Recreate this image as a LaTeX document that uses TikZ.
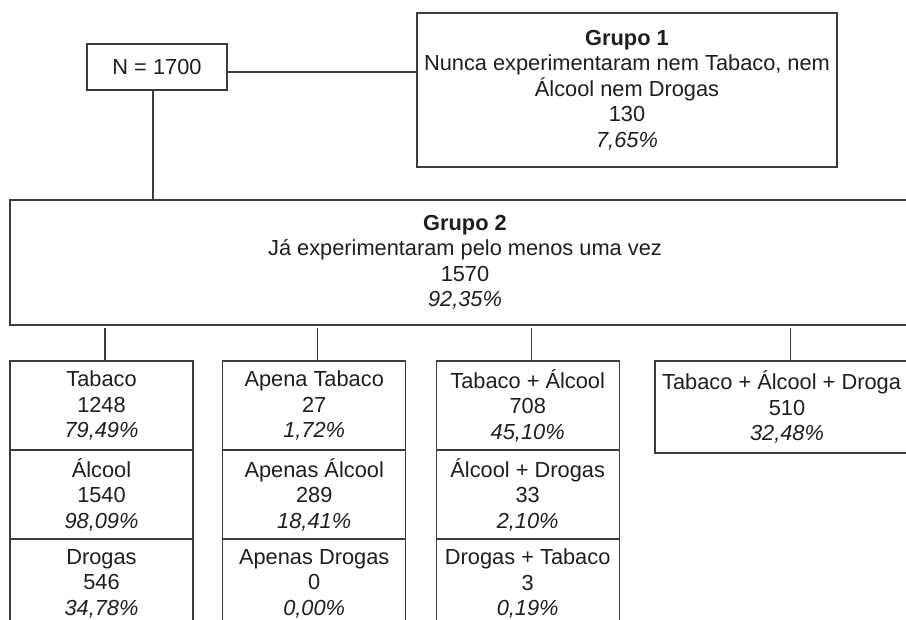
\documentclass[tikz,border=0pt]{standalone}
\usepackage{fontspec}
\setmainfont{Liberation Sans}
\usetikzlibrary{positioning}
\definecolor{FrameGray}{RGB}{60,60,60}
\definecolor{InkBlack}{RGB}{30,30,30}

\begin{document}
\begin{tikzpicture}[x=1pt, y=-1pt, font=\fontsize{21.8}{25.5}\selectfont,
    box/.style={draw=FrameGray, line width=1.3pt, text=InkBlack, align=center, inner sep=0pt, outer sep=0pt},
    cell/.style={box, minimum width=183pt, minimum height=89pt},
    link/.style={draw=FrameGray, line width=1.3pt}]
    \useasboundingbox (0,0) rectangle (906,620);
    \clip (0,0) rectangle (906,620);

    % top of the tree
    \node[box, minimum width=140pt, minimum height=46pt] (total) at (157,67) {N = 1700};
    \node[box, minimum width=420pt, minimum height=154pt] (grupo1) at (627,90)
        {\textbf{Grupo 1}\\Nunca experimentaram nem Tabaco, nem\\Álcool nem Drogas\\130\\\textit{7,65\%}};
    \node[box, minimum width=910pt, minimum height=125pt] (grupo2) at (465,262.5)
        {\textbf{Grupo 2}\\Já experimentaram pelo menos uma vez\\1570\\\textit{92,35\%}};

    % columns
    \node[cell] (tab) at (101.5,405.5) {Tabaco\\1248\\\textit{79,49\%}};
    \node[cell, below=0pt of tab] (alc) {Álcool\\1540\\\textit{98,09\%}};
    \node[cell, below=0pt of alc] (dro) {Drogas\\546\\\textit{34,78\%}};

    \node[cell] (apt) at (314.2,405.5) {Apena Tabaco\\27\\\textit{1,72\%}};
    \node[cell, below=0pt of apt] (apa) {Apenas Álcool\\289\\\textit{18,41\%}};
    \node[cell, below=0pt of apa] (apd) {Apenas Drogas\\0\\\textit{0,00\%}};

    \node[cell] (tal) at (527.7,405.5) {Tabaco + Álcool\\708\\\textit{45,10\%}};
    \node[cell, below=0pt of tal] (ald) {Álcool + Drogas\\33\\\textit{2,10\%}};
    \node[cell, below=0pt of ald] (drt) {Drogas + Tabaco\\3\\\textit{0,19\%}};

    \node[box, minimum width=264pt, minimum height=92pt] (todos) at (787,407)
        {Tabaco + Álcool + Droga\phantom{s}\\510\\\textit{32,48\%}};

    % connectors
    \draw[link] ([yshift=-5pt]total.east) -- ([yshift=-5pt]total.east -| grupo1.west);
    \draw[link] ([xshift=-4pt]total.south) -- ([xshift=-4pt]total.south |- grupo2.north);
    \foreach \c in {tab, apt, tal, todos}
        \draw[link, shorten <=3pt] ([xshift=3.5pt]\c.north |- grupo2.south) -- ([xshift=3.5pt]\c.north);
\end{tikzpicture}
\end{document}
